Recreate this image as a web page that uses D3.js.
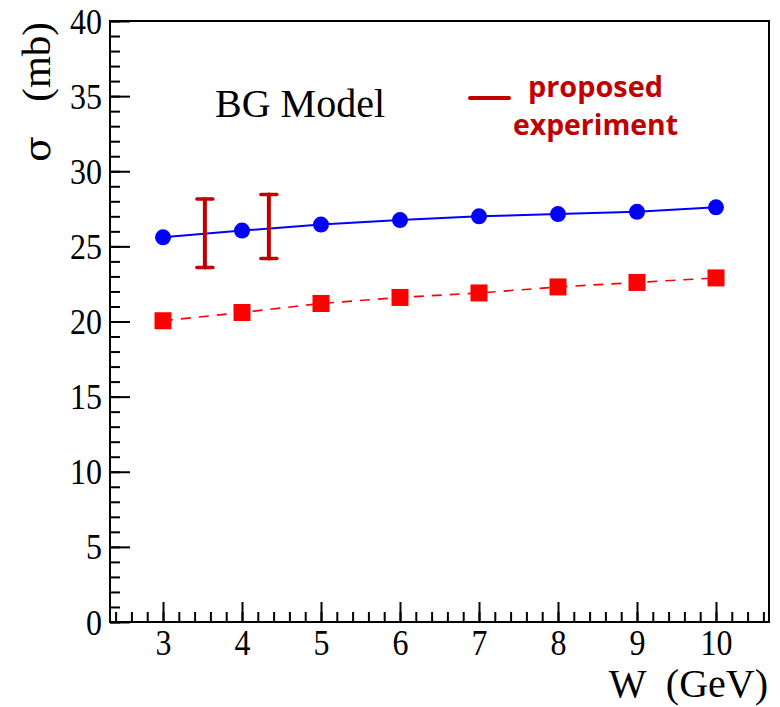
<!DOCTYPE html>
<html>
<head>
<meta charset="utf-8">
<script src="https://cdn.jsdelivr.net/npm/d3@7"></script>
<style>
  body { margin: 0; background: #fff; }
  svg { display: block; }
</style>
</head>
<body>
<svg id="chart" width="780" height="707"></svg>
<script>
// data
var W = [3, 4, 5, 6, 7, 8, 9, 10];
var sigmaBG = [25.6, 26.05, 26.45, 26.75, 27.0, 27.15, 27.3, 27.6];
var sigmaLow = [20.05, 20.6, 21.2, 21.6, 21.9, 22.3, 22.6, 22.9];
// proposed experiment error bars
var expW = [3.53, 4.34];
var expLo = [23.6, 24.2];
var expHi = [28.15, 28.45];

var xTicks = [3, 4, 5, 6, 7, 8, 9, 10];
var yTicks = [0, 5, 10, 15, 20, 25, 30, 35, 40];

var FRAME = { left: 110, right: 769, top: 21, bottom: 622 };
var SERIF = "'Liberation Serif', 'Times New Roman', serif";
var DARKRED = "#c00000";

var svg = d3.select("#chart");

var x = d3.scaleLinear()
	.domain([2.329, 10.671])
	.range([FRAME.left, FRAME.right]);
var y = d3.scaleLinear()
	.domain([0, 40])
	.range([FRAME.bottom, FRAME.top]);

// frame
svg.append("rect")
	.attr("x", FRAME.left).attr("y", FRAME.top)
	.attr("width", FRAME.right - FRAME.left)
	.attr("height", FRAME.bottom - FRAME.top)
	.attr("fill", "none")
	.attr("stroke", "#000")
	.attr("stroke-width", 2);

// minor ticks (inside the frame)
var xMinor = d3.range(24, 107, 2).map(function(d) { return d / 10; });
var yMinor = d3.range(0, 41, 1);

svg.append("g")
	.attr("transform", "translate(0," + FRAME.bottom + ")")
	.call(d3.axisBottom(x).tickValues(xMinor).tickSize(-10).tickFormat(""))
	.call(function(g) { g.select(".domain").remove(); })
	.selectAll("line").attr("stroke-width", 2);

svg.append("g")
	.attr("transform", "translate(" + FRAME.left + ",0)")
	.call(d3.axisLeft(y).tickValues(yMinor).tickSize(-10).tickFormat(""))
	.call(function(g) { g.select(".domain").remove(); })
	.selectAll("line").attr("stroke-width", 2);

// major ticks + labels (glyphs slightly tall, like the original)
var xAxis = svg.append("g")
	.attr("transform", "translate(0," + FRAME.bottom + ")")
	.call(d3.axisBottom(x).tickValues(xTicks).tickSize(-20).tickPadding(0));
xAxis.select(".domain").remove();
xAxis.selectAll("line").attr("stroke-width", 2);
xAxis.selectAll("text")
	.attr("y", 0).attr("dy", null)
	.attr("transform", "translate(0,33) scale(1,1.12)")
	.attr("font-family", SERIF)
	.attr("font-size", 32)
	.attr("fill", "#000");

var yAxis = svg.append("g")
	.attr("transform", "translate(" + FRAME.left + ",0)")
	.call(d3.axisLeft(y).tickValues(yTicks).tickSize(-20).tickPadding(0));
yAxis.select(".domain").remove();
yAxis.selectAll("line").attr("stroke-width", 2);
yAxis.selectAll("text")
	.attr("x", 0).attr("dy", null)
	.attr("transform", "translate(-8,12) scale(1,1.12)")
	.attr("font-family", SERIF)
	.attr("font-size", 32)
	.attr("fill", "#000");

// axis titles
svg.append("text")
	.attr("x", 768).attr("y", 697)
	.attr("text-anchor", "end")
	.attr("font-family", SERIF)
	.attr("font-size", 40)
	.style("white-space", "pre")
	.text("W  (GeV)");

svg.append("text")
	.attr("transform", "translate(50,22) rotate(-90)")
	.attr("text-anchor", "end")
	.attr("font-family", SERIF)
	.attr("font-size", 41)
	.text("(mb)");

svg.append("text")
	.attr("transform", "translate(50,136) rotate(-90)")
	.attr("text-anchor", "end")
	.attr("font-family", "'DejaVu Serif', serif")
	.attr("font-size", 38)
	.text("\u03c3");

// BG model line + markers
var line = d3.line()
	.x(function(d) { return x(d[0]); })
	.y(function(d) { return y(d[1]); });

svg.append("path")
	.datum(d3.zip(W, sigmaBG))
	.attr("d", line)
	.attr("fill", "none")
	.attr("stroke", "#0000ff")
	.attr("stroke-width", 2);

svg.append("path")
	.datum(d3.zip(W, sigmaLow))
	.attr("d", line)
	.attr("fill", "none")
	.attr("stroke", "#ff0000")
	.attr("stroke-width", 1.6)
	.attr("stroke-dasharray", "10,8");

svg.selectAll("circle.bg")
	.data(d3.zip(W, sigmaBG))
	.enter().append("circle")
	.attr("class", "bg")
	.attr("cx", function(d) { return x(d[0]); })
	.attr("cy", function(d) { return y(d[1]); })
	.attr("r", 8)
	.attr("fill", "#0000ff");

svg.selectAll("rect.low")
	.data(d3.zip(W, sigmaLow))
	.enter().append("rect")
	.attr("class", "low")
	.attr("x", function(d) { return x(d[0]) - 8.5; })
	.attr("y", function(d) { return y(d[1]) - 8.5; })
	.attr("width", 17)
	.attr("height", 17)
	.attr("fill", "#ff0000");

// proposed experiment error bars
var bars = svg.selectAll("g.exp")
	.data(d3.zip(expW, expLo, expHi))
	.enter().append("g")
	.attr("class", "exp")
	.attr("stroke", DARKRED)
	.attr("stroke-linecap", "round");

bars.append("line")
	.attr("x1", function(d) { return x(d[0]); })
	.attr("x2", function(d) { return x(d[0]); })
	.attr("y1", function(d) { return y(d[1]); })
	.attr("y2", function(d) { return y(d[2]); })
	.attr("stroke-width", 4);

bars.selectAll("line.cap")
	.data(function(d) { return [[d[0], d[1]], [d[0], d[2]]]; })
	.enter().append("line")
	.attr("class", "cap")
	.attr("x1", function(d) { return x(d[0]) - 8; })
	.attr("x2", function(d) { return x(d[0]) + 8; })
	.attr("y1", function(d) { return y(d[1]); })
	.attr("y2", function(d) { return y(d[1]); })
	.attr("stroke-width", 3.5);

// legend
svg.append("text")
	.attr("x", 215).attr("y", 117)
	.attr("font-family", SERIF)
	.attr("font-size", 40)
	.attr("fill", "#000")
	.text("BG Model");

svg.append("line")
	.attr("x1", 470).attr("x2", 509)
	.attr("y1", 98).attr("y2", 98)
	.attr("stroke", DARKRED)
	.attr("stroke-width", 4)
	.attr("stroke-linecap", "round");

svg.append("text")
	.attr("x", 528).attr("y", 97)
	.attr("font-family", "'Open Sans', sans-serif")
	.attr("font-weight", "bold")
	.attr("font-size", 29)
	.attr("textLength", 135)
	.attr("lengthAdjust", "spacingAndGlyphs")
	.attr("fill", DARKRED)
	.text("proposed");

svg.append("text")
	.attr("x", 513).attr("y", 135)
	.attr("font-family", "'Open Sans', sans-serif")
	.attr("font-weight", "bold")
	.attr("font-size", 29)
	.attr("textLength", 165)
	.attr("lengthAdjust", "spacingAndGlyphs")
	.attr("fill", DARKRED)
	.text("experiment");
</script>
</body>
</html>
